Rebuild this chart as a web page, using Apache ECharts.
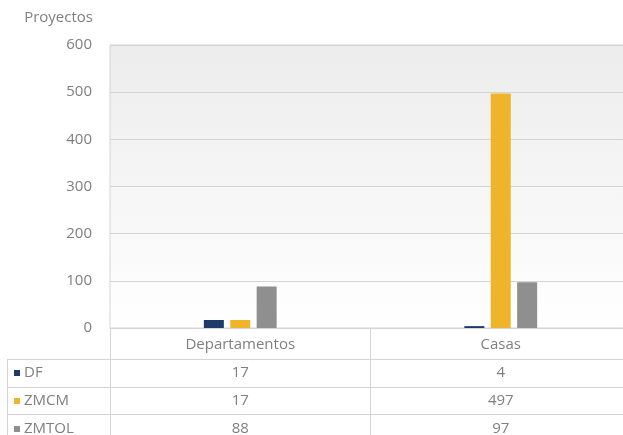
<!DOCTYPE html>
<html>
<head>
<meta charset="utf-8">
<script src="https://cdn.jsdelivr.net/npm/echarts@6/dist/echarts.min.js"></script>
<style>
  html, body { margin: 0; padding: 0; background: #fff; }
  #chart { width: 623px; height: 435px; }
</style>
</head>
<body>
<div id="chart"></div>
<script>
// Project counts by dwelling type and zone
const categories = ['Departamentos', 'Casas'];
const seriesNames = ['DF', 'ZMCM', 'ZMTOL'];
const dfValues = [17, 4];
const zmcmValues = [17, 497];
const zmtolValues = [88, 97];
const yTicks = [0, 100, 200, 300, 400, 500, 600];

const seriesValues = [dfValues, zmcmValues, zmtolValues];
const colors = ['#1f3a68', '#efb52a', '#8f8f8f'];
const textColor = '#7f7f7f';
const lineColor = '#d4d4d4';
const fontFamily = '"Open Sans", "Noto Sans", sans-serif';
const fontSize = 15;

const chart = echarts.init(document.getElementById('chart'), null, { renderer: 'canvas' });

// Data table below the axis: category header plus one row per series
function tableLabel(value, index) {
  const rows = [value];
  seriesValues.forEach(vals => rows.push(String(vals[index])));
  return rows.join('\n');
}

// Legend key column and table grid lines
const rowCenters = [373, 401, 429];
const graphics = [];
seriesNames.forEach((name, i) => {
  graphics.push({
    type: 'rect',
    shape: { x: 14, y: rowCenters[i] - 3, width: 6, height: 6 },
    style: { fill: colors[i] },
    silent: true
  });
  graphics.push({
    type: 'text',
    x: 24, y: rowCenters[i],
    style: {
      text: name, fill: textColor, font: fontSize + 'px ' + fontFamily,
      verticalAlign: 'middle', align: 'left'
    },
    silent: true
  });
});
[359.5, 387.5, 414.5].forEach(y => {
  graphics.push({
    type: 'line',
    shape: { x1: 7, y1: y, x2: 623, y2: y },
    style: { stroke: lineColor, lineWidth: 1 },
    silent: true
  });
});
graphics.push({
  type: 'line', shape: { x1: 7.5, y1: 359, x2: 7.5, y2: 435 },
  style: { stroke: lineColor, lineWidth: 1 }, silent: true
});
graphics.push({
  type: 'line', shape: { x1: 110.5, y1: 328, x2: 110.5, y2: 435 },
  style: { stroke: lineColor, lineWidth: 1 }, silent: true
});
graphics.push({
  type: 'line', shape: { x1: 370.5, y1: 328, x2: 370.5, y2: 435 },
  style: { stroke: lineColor, lineWidth: 1 }, silent: true
});

const option = {
  animation: false,
  backgroundColor: '#ffffff',
  textStyle: { fontFamily: fontFamily },
  grid: {
    left: 110, right: -8, top: 45, bottom: 107,
    outerBoundsMode: 'none',
    containLabel: false,
    show: true,
    borderColor: lineColor,
    borderWidth: 1,
    backgroundColor: new echarts.graphic.LinearGradient(0, 0, 0, 1, [
      { offset: 0, color: '#ececec' },
      { offset: 1, color: '#ffffff' }
    ])
  },
  xAxis: {
    type: 'category',
    data: categories,
    axisLine: { show: true, lineStyle: { color: lineColor } },
    axisTick: { show: false },
    axisLabel: {
      color: textColor,
      fontSize: fontSize,
      fontFamily: fontFamily,
      lineHeight: 28,
      margin: 3,
      formatter: tableLabel
    }
  },
  yAxis: {
    type: 'value',
    name: 'Proyectos',
    nameLocation: 'end',
    nameGap: 20,
    nameTextStyle: { color: textColor, fontSize: 15, fontFamily: fontFamily, align: 'right', padding: [0, 17, 0, 0] },
    min: yTicks[0],
    max: yTicks[yTicks.length - 1],
    interval: 100,
    axisLine: { show: false },
    axisTick: { show: false },
    axisLabel: { color: textColor, fontSize: fontSize, fontFamily: fontFamily, margin: 18 },
    splitLine: { lineStyle: { color: lineColor, width: 1 } }
  },
  series: seriesNames.map((name, i) => ({
    name: name,
    type: 'bar',
    data: seriesValues[i],
    barWidth: 20,
    barGap: '32%',
    itemStyle: { color: colors[i] }
  })),
  graphic: graphics
};

chart.setOption(option);
</script>
</body>
</html>
